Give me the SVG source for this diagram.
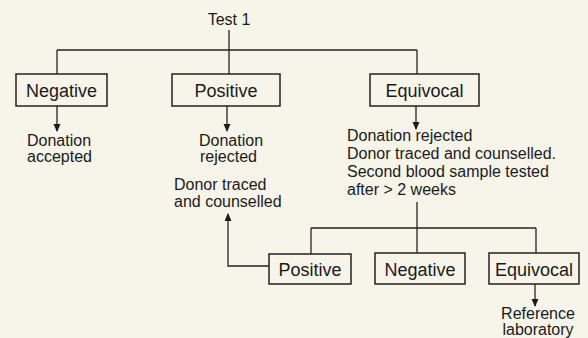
<svg xmlns="http://www.w3.org/2000/svg" width="588" height="338" viewBox="0 0 588 338">
<style>
.bg{fill:#f7f5ea}
.box{fill:none;stroke:#222;stroke-width:1.5}
.ln{fill:none;stroke:#222;stroke-width:1.3}
.lbl{font-family:"Liberation Sans",Arial,sans-serif;font-size:18px;fill:#1a1a1a;text-anchor:middle}
.txt{font-family:"Liberation Sans",Arial,sans-serif;font-size:16px;fill:#1a1a1a}
.mid{text-anchor:middle}
</style>
<defs>
<marker id="ah" markerWidth="8" markerHeight="10" refX="7" refY="3.5" orient="auto" markerUnits="userSpaceOnUse">
<path d="M0,0 L8,3.5 L0,7 Z" fill="#1a1a1a"/>
</marker>
</defs>
<rect class="bg" x="0" y="0" width="588" height="338"/>
<g id="connectors">
<path class="ln" d="M229,30 V74"/>
<path class="ln" d="M57,50 H417"/>
<path class="ln" d="M57,50 V74"/>
<path class="ln" d="M417,50 V74"/>
<path class="ln" d="M57,106 V131" marker-end="url(#ah)"/>
<path class="ln" d="M227,106 V131" marker-end="url(#ah)"/>
<path class="ln" d="M416,106 V129" marker-end="url(#ah)"/>
<path class="ln" d="M417,202 V253"/>
<path class="ln" d="M311,228 H536"/>
<path class="ln" d="M311,228 V254"/>
<path class="ln" d="M536,228 V253"/>
<path class="ln" d="M269,266 H228 V214" marker-end="url(#ah)"/>
<path class="ln" d="M535,284 V306" marker-end="url(#ah)"/>
</g>
<g id="test1">
<text class="txt mid" x="229" y="25">Test 1</text>
</g>
<g id="negative1">
<rect class="box" x="16" y="74" width="91" height="32"/>
<text class="lbl" x="61.5" y="97">Negative</text>
</g>
<g id="positive1">
<rect class="box" x="172" y="74" width="108" height="32"/>
<text class="lbl" x="226" y="97">Positive</text>
</g>
<g id="equivocal1">
<rect class="box" x="370" y="74" width="109" height="32"/>
<text class="lbl" x="424.5" y="97">Equivocal</text>
</g>
<g id="donation-accepted">
<text class="txt" x="27" y="146">Donation<tspan x="27" y="162">accepted</tspan></text>
</g>
<g id="donation-rejected">
<text class="txt" x="199" y="146">Donation<tspan x="200" y="162">rejected</tspan></text>
</g>
<g id="equivocal-action">
<text class="txt" x="347" y="141">Donation rejected<tspan x="347" y="159">Donor traced and counselled.</tspan><tspan x="347" y="177">Second blood sample tested</tspan><tspan x="347" y="195">after &gt; 2 weeks</tspan></text>
</g>
<g id="donor-traced">
<text class="txt" x="174" y="190">Donor traced<tspan x="174" y="207">and counselled</tspan></text>
</g>
<g id="positive2">
<rect class="box" x="269" y="254" width="82" height="30"/>
<text class="lbl" x="310" y="276">Positive</text>
</g>
<g id="negative2">
<rect class="box" x="375" y="253" width="90" height="31"/>
<text class="lbl" x="420" y="276">Negative</text>
</g>
<g id="equivocal2">
<rect class="box" x="489" y="253" width="90" height="31"/>
<text class="lbl" x="534" y="276">Equivocal</text>
</g>
<g id="reference-lab">
<text class="txt mid" x="538" y="319">Reference<tspan x="538" y="334.5">laboratory</tspan></text>
</g>
</svg>
